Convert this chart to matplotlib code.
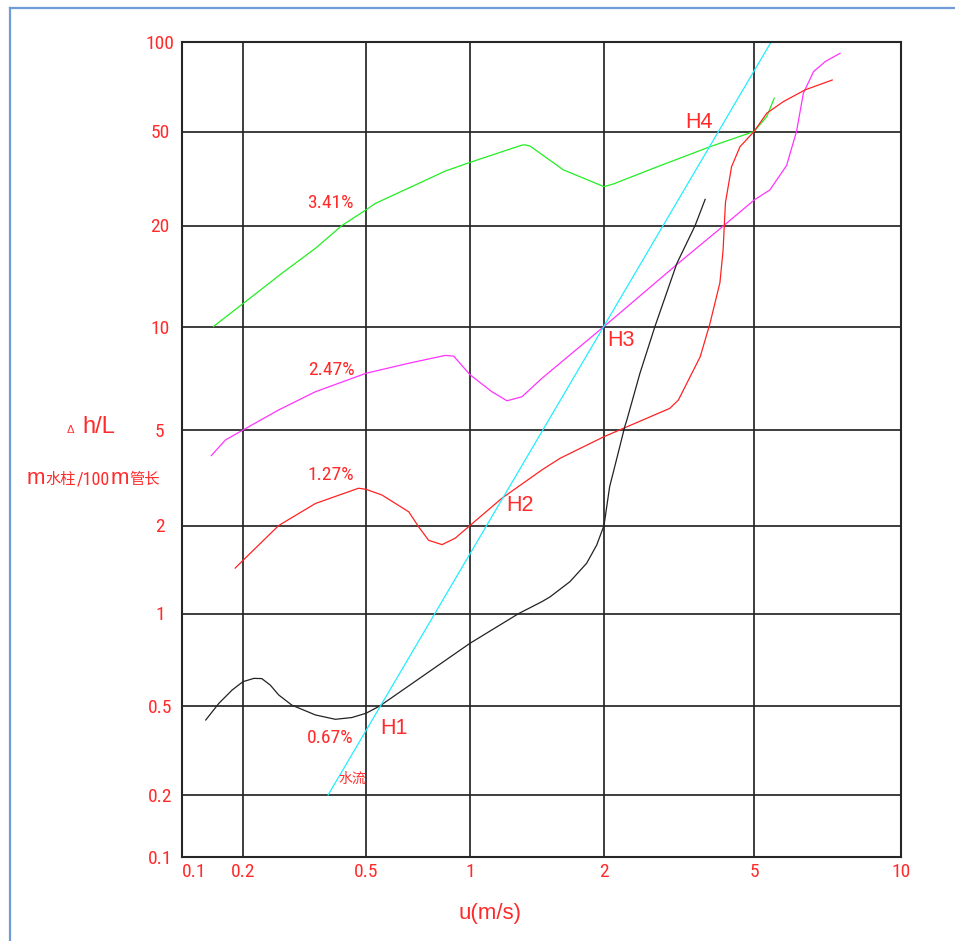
import numpy as np
import matplotlib
matplotlib.use("Agg")
import matplotlib.pyplot as plt
from matplotlib.lines import Line2D
from matplotlib import font_manager

# ---------------- data ----------------
x_ticks = [0.1, 0.2, 0.5, 1, 2, 5, 10]
x_tick_labels = ["0.1", "0.2", "0.5", "1", "2", "5", "10"]
y_ticks = [0.1, 0.2, 0.5, 1, 2, 5, 10, 20, 50, 100]
y_tick_labels = ["0.1", "0.2", "0.5", "1", "2", "5", "10", "20", "50", "100"]

# slope 3.41 %
u_341 = [0.143, 0.2, 0.267, 0.343, 0.418, 0.5, 0.532, 0.695, 0.848, 1.0, 1.2, 1.309, 1.33,
         1.364, 1.621, 2.0, 2.12, 2.70, 3.82, 5.0, 5.31, 5.50]
h_341 = [10.0, 11.7, 14.4, 17.1, 20.0, 23.3, 24.8, 29.7, 34.0, 37.0, 41.5, 43.8, 43.9,
         43.4, 34.4, 29.2, 30.0, 34.9, 43.1, 50.0, 56.1, 64.7]
# slope 2.47 %
u_247 = [0.1395, 0.1636, 0.2, 0.261, 0.343, 0.5, 0.665, 0.848, 0.897, 1.0, 1.12, 1.211,
         1.309, 1.451, 2.0, 3.12, 4.16, 5.0, 5.39, 5.83, 6.11, 6.31, 6.62, 7.0, 7.50]
h_247 = [3.91, 4.54, 5.0, 5.72, 6.46, 7.31, 7.82, 8.24, 8.2, 7.24, 6.46, 6.08,
         6.25, 7.07, 10.0, 15.3, 20.0, 25.6, 28.3, 35.9, 50.0, 67.2, 79.5, 86.0, 91.6]
# slope 1.27 %
u_127 = [0.183, 0.2, 0.261, 0.343, 0.473, 0.5, 0.556, 0.665, 0.71, 0.759, 0.83, 0.906,
         1.0, 1.18, 1.451, 1.593, 2.0, 2.99, 3.15, 3.60, 3.82, 4.06, 4.14, 4.17, 4.20,
         4.36, 4.59, 5.0, 5.31, 5.74, 6.36, 7.23]
h_127 = [1.43, 1.52, 2.0, 2.47, 2.86, 2.83, 2.68, 2.28, 1.98, 1.78, 1.72, 1.81,
         2.0, 2.6, 3.41, 3.81, 4.69, 5.78, 6.11, 8.17, 10.2, 13.5, 16.9, 20.0, 25.0,
         35.5, 43.1, 50.0, 57.6, 63.0, 69.0, 74.5]
# slope 0.67 %
u_067 = [0.131, 0.152, 0.177, 0.2, 0.217, 0.230, 0.245, 0.261, 0.288, 0.343, 0.398, 0.45,
         0.5, 0.548, 1.0, 1.287, 1.451, 1.513, 1.677, 1.828, 1.926, 2.0, 2.07, 2.18,
         2.27, 2.30, 2.49, 2.73, 3.12, 3.49, 3.71]
h_067 = [0.433, 0.51, 0.564, 0.60, 0.615, 0.614, 0.585, 0.543, 0.503, 0.456, 0.436, 0.444,
         0.464, 0.5, 0.80, 1.0, 1.098, 1.14, 1.285, 1.485, 1.715, 2.0, 2.9, 4.0,
         5.11, 5.35, 7.3, 10.0, 15.4, 20.0, 25.8]
# water line (straight)
u_water = [0.377, 5.42]
h_water = [0.2, 100.0]

slope_labels = ["3.41%", "2.47%", "1.27%", "0.67%"]
point_labels = ["H1", "H2", "H3", "H4"]

# ---------------- fonts ----------------
_names = {f.name for f in font_manager.fontManager.ttflist}
_narrow = None
for cand in ["Liberation Sans Narrow", "Roboto Condensed", "Open Sans Condensed",
             "DejaVu Sans Condensed", "Arial Narrow", "Noto Sans Condensed"]:
    if cand in _names:
        _narrow = cand
        break
_dejavu_cond = any(f.name == "DejaVu Sans" and "condensed" in str(f.stretch).lower()
                   for f in font_manager.fontManager.ttflist)
if _narrow:
    tick_font = [_narrow, "DejaVu Sans"]
    tick_stretch = "normal"
elif _dejavu_cond:
    tick_font = ["DejaVu Sans"]
    tick_stretch = "condensed"
else:
    tick_font = ["Liberation Sans", "DejaVu Sans"]
    tick_stretch = "normal"

# ---------------- style ----------------
RED = "#ff2b2b"
W, H = 955, 941
fig = plt.figure(figsize=(W / 100, H / 100), dpi=100)
fig.patch.set_facecolor("white")

L, R, T, B = 182, 901, 42, 857
ax = fig.add_axes([L / W, 1 - B / H, (R - L) / W, (B - T) / H])

# non-uniform grid scale (each labelled grid value at its drawn position)
gx = np.log10(x_ticks)
px = np.array([0, 61, 184, 288, 422, 572, 719], float)
gy = np.log10(y_ticks)
py = np.array([0, 62, 151, 243.5, 331.5, 427, 530.5, 631.5, 725.5, 815], float)


def fx(v):
    v = np.clip(np.asarray(v, float), 1e-9, None)
    return np.interp(np.log10(v), gx, px)


def fx_inv(p):
    return 10 ** np.interp(np.asarray(p, float), px, gx)


def fy(v):
    v = np.clip(np.asarray(v, float), 1e-9, None)
    return np.interp(np.log10(v), gy, py)


def fy_inv(p):
    return 10 ** np.interp(np.asarray(p, float), py, gy)


ax.set_xscale("function", functions=(fx, fx_inv))
ax.set_yscale("function", functions=(fy, fy_inv))
ax.set_xlim(0.1, 10)
ax.set_ylim(0.1, 100)

ax.set_xticks(x_ticks)
ax.set_xticklabels(x_tick_labels, color=RED, fontsize=14, family=tick_font,
                   fontstretch=tick_stretch)
ax.set_yticks(y_ticks)
ax.set_yticklabels(y_tick_labels, color=RED, fontsize=14, family=tick_font,
                   fontstretch=tick_stretch)
ax.minorticks_off()
ax.tick_params(axis="both", length=0)
ax.tick_params(axis="x", pad=4)
ax.tick_params(axis="y", pad=16)
for lab in ax.get_yticklabels():
    lab.set_horizontalalignment("center")
ax.get_xticklabels()[0].set_horizontalalignment("left")

ax.grid(True, color="#262626", lw=1.25)
ax.set_axisbelow(True)
for s in ax.spines.values():
    s.set_color("#262626")
    s.set_linewidth(1.5)

lw = 0.9
ax.plot(u_341, h_341, color="#22ee22", lw=lw)
ax.plot(u_247, h_247, color="#ff33ff", lw=lw)
ax.plot(u_127, h_127, color="#ff2222", lw=lw)
ax.plot(u_067, h_067, color="#222222", lw=lw)
ax.plot(u_water, h_water, color="#22eeff", lw=lw)


def ftext(xp, yp, s, **kw):
    return fig.text(xp / W, 1 - yp / H, s, color=RED, **kw)


# slope labels
for (xp, yp), s in zip([(330, 203), (331, 370), (331, 475), (330, 738)], slope_labels):
    ftext(xp, yp, s, fontsize=14, family=tick_font, fontstretch=tick_stretch,
          ha="center", va="center")
ftext(352, 779, "水流", fontsize=10, family=["Noto Sans CJK SC", "DejaVu Sans"],
      ha="center", va="center")

# H labels
for (xp, yp), s in zip([(394, 728), (520, 506), (621, 340), (699, 122)], point_labels):
    ftext(xp, yp, s, fontsize=15.5, family=["Liberation Sans", "DejaVu Sans"],
          ha="center", va="center")

# axis titles
ftext(490, 914, "u(m/s)", fontsize=16, family=["Liberation Sans", "DejaVu Sans"],
      ha="center", va="center")

renderer = fig.canvas.get_renderer()


def seq_text(x0, ybase, parts):
    x = x0
    for s, size, fam, gap in parts:
        t = ftext(x, ybase, s, fontsize=size, family=fam, ha="left", va="baseline")
        bb = t.get_window_extent(renderer)
        x += bb.width + gap


LIB = ["Liberation Sans", "DejaVu Sans"]
CJK = ["Noto Sans CJK SC", "DejaVu Sans"]
seq_text(67, 433, [("Δ", 8, LIB, 8), ("h/L", 17, LIB, 0)])
seq_text(27, 484, [("m", 16, LIB, 0), ("水柱", 11, CJK, 1), ("/100", 13, tick_font, 0),
                   ("m", 16, LIB, 1), ("管长", 11, CJK, 0)])

# outer blue frame (left and top edges)
fig.add_artist(Line2D([9.5 / W, 9.5 / W], [0, 1 - 8 / H], transform=fig.transFigure,
                      color="#6f9bd6", lw=1.6))
fig.add_artist(Line2D([9.5 / W, 1], [1 - 8 / H, 1 - 8 / H], transform=fig.transFigure,
                      color="#6f9bd6", lw=1.6))

fig.savefig("out.png", dpi=100, facecolor="white")
